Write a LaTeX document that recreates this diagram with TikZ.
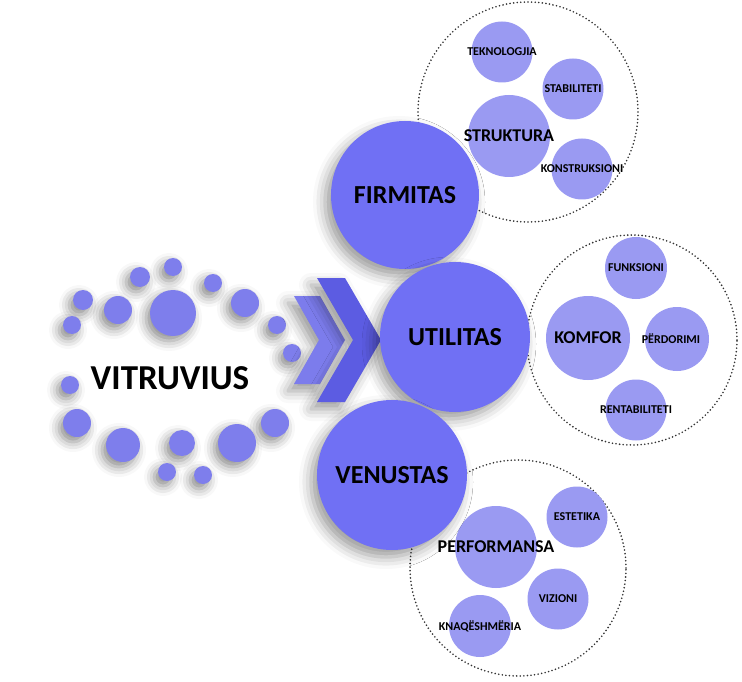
\documentclass[tikz,border=0pt]{standalone}
\usepackage{xcolor}
\usepackage{fontspec}
\setmainfont{Carlito}
\usetikzlibrary{shadows.blur}
\definecolor{bigblue}{RGB}{112,112,244}
\definecolor{smallblue}{RGB}{154,154,242}
\definecolor{dotblue}{RGB}{126,126,236}
\definecolor{chevfront}{RGB}{92,92,226}
\definecolor{chevback}{RGB}{124,124,236}
% text that does not widen its circle
\newcommand{\flattext}[1]{\makebox[0pt]{#1}}

\begin{document}
\begin{tikzpicture}[x=1pt,y=-1pt,
  soft/.style={blur shadow={shadow xshift=-6pt,shadow yshift=-7pt,shadow blur radius=12pt,shadow opacity=40}},
  big/.style={circle,fill=bigblue,inner sep=0pt,minimum size=148pt,soft,
    font=\fontsize{26}{26}\selectfont\bfseries},
  mid/.style={circle,fill=smallblue,inner sep=0pt,minimum size=82pt,
    font=\fontsize{18}{18}\selectfont\bfseries},
  small/.style={circle,fill=smallblue,inner sep=0pt,minimum size=61pt,
    font=\fontsize{12}{12}\selectfont\bfseries},
  group/.style={circle,draw=black!80,dash pattern=on 0pt off 3.6pt,line cap=round,line width=1.8pt,fill=white,inner sep=0pt},
  dot/.style={circle,fill=dotblue,inner sep=0pt,
    blur shadow={shadow xshift=-4pt,shadow yshift=-5pt,shadow blur radius=10pt,shadow opacity=45}}]
\useasboundingbox (0,0) rectangle (742,682);

% vitruvius
\node[dot,minimum size=18pt] (dot_a) at (173,267) {};
\node[dot,minimum size=20pt] (dot_b) at (140,277) {};
\node[dot,minimum size=18pt] (dot_c) at (213,283) {};
\node[dot,minimum size=20pt] (dot_d) at (83,300) {};
\node[dot,minimum size=28pt] (dot_e) at (118,310) {};
\node[dot,minimum size=46pt] (dot_f) at (173,313) {};
\node[dot,minimum size=28pt] (dot_g) at (245,303) {};
\node[dot,minimum size=18pt] (dot_h) at (72,325) {};
\node[dot,minimum size=18pt] (dot_i) at (277,325) {};
\node[dot,minimum size=18pt] (dot_j) at (292,353) {};
\node[dot,minimum size=18pt] (dot_k) at (70,385) {};
\node[dot,minimum size=28pt] (dot_l) at (77,423) {};
\node[dot,minimum size=28pt] (dot_m) at (275,423) {};
\node[dot,minimum size=34pt] (dot_n) at (123,445) {};
\node[dot,minimum size=26pt] (dot_o) at (182,443) {};
\node[dot,minimum size=38pt] (dot_p) at (237,443) {};
\node[dot,minimum size=18pt] (dot_q) at (167,472) {};
\node[dot,minimum size=18pt] (dot_r) at (203,475) {};
\node[font=\fontsize{35}{35}\selectfont\bfseries] (vitruvius) at (170,378) {VITRUVIUS};

% chevrons
\fill[chevback,soft] (294,296) -- (320,296) -- (345,340) -- (320,384) -- (294,384) -- (319,340) -- cycle;
\fill[chevfront,soft] (317,278) -- (345,278) -- (381,340) -- (345,402) -- (317,402) -- (353,340) -- cycle;

% groups
\node[group,minimum size=220pt] (firmitas_group) at (528,112) {};
\node[group,minimum size=210pt] (utilitas_group) at (632,340) {};
\node[group,minimum size=216pt] (venustas_group) at (518,568) {};

\node[small] (teknologjia) at (502,52) {\flattext{TEKNOLOGJIA}};
\node[small] (stabiliteti) at (573,89) {\flattext{STABILITETI}};
\node[mid] (struktura) at (509,136) {\flattext{STRUKTURA}};
\node[small] (konstruksioni) at (582,169) {\flattext{KONSTRUKSIONI}};

\node[small,minimum size=62pt] (funksioni) at (636,268) {\flattext{FUNKSIONI}};
\node[mid,minimum size=84pt] (komfor) at (588,338) {\flattext{KOMFOR}};
\node[small,minimum size=64pt] (perdorimi) at (677,339) {\flattext{\hspace*{-12pt}PËRDORIMI}};
\node[small] (rentabiliteti) at (636,410) {\flattext{RENTABILITETI}};

\node[small] (estetika) at (577,517) {\flattext{ESTETIKA}};
\node[mid] (performansa) at (496,547) {\flattext{PERFORMANSA}};
\node[small] (vizioni) at (558,599) {\flattext{VIZIONI}};
\node[small,minimum size=62pt] (knaqesia) at (480,626) {\flattext{KNAQËSHMËRIA}};

% main circles
\node[big] (firmitas) at (405,195) {FIRMITAS};
\node[big,minimum size=150pt] (utilitas) at (455,337) {UTILITAS};
\node[big,minimum size=150pt] (venustas) at (392,475) {VENUSTAS};
\end{tikzpicture}
\end{document}
